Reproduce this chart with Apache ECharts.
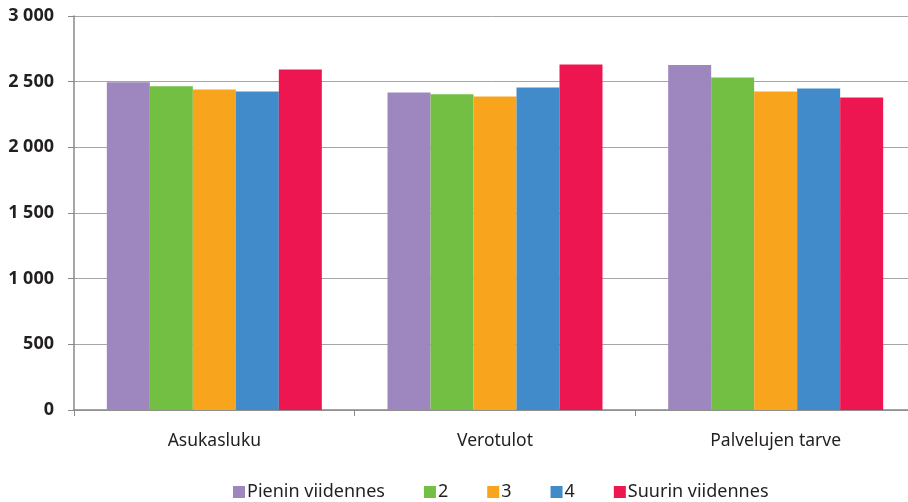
<!DOCTYPE html>
<html><head><meta charset="utf-8">
<script src="https://cdn.jsdelivr.net/npm/echarts@6/dist/echarts.min.js"></script>
<style>html,body{margin:0;padding:0;background:#fff}#c{width:908px;height:502px}</style>
</head><body><div id="c"></div>
<script>
const categories = ['Asukasluku', 'Verotulot', 'Palvelujen tarve'];
const seriesNames = ['Pienin viidennes', '2', '3', '4', 'Suurin viidennes'];
const pienin = [2496, 2418, 2626];
const s2 = [2466, 2405, 2532];
const s3 = [2440, 2387, 2425];
const s4 = [2425, 2456, 2448];
const suurin = [2593, 2631, 2380];
const yTicks = [0, 500, 1000, 1500, 2000, 2500, 3000];
const colors = ['#9d87be', '#72bf44', '#f8a51d', '#428bca', '#ee1651'];
const values = [pienin, s2, s3, s4, suurin];

const chart = echarts.init(document.getElementById('c'));
chart.setOption({
  animation: false,
  color: colors,
  textStyle: { fontFamily: 'Noto Sans' },
  grid: { left: 74, width: 842, top: 16, height: 394, containLabel: false, outerBoundsMode: 'none' },
  legend: {
    bottom: -4, left: 228,
    itemWidth: 12, itemHeight: 12, itemGap: 39,
    icon: 'rect',
    textStyle: { fontSize: 18, color: '#231f20', padding: [0,0,0,-3] },
    data: seriesNames
  },
  xAxis: {
    type: 'category', data: categories,
    axisLine: { lineStyle: { color: '#888', width: 1.5 } },
    axisTick: { show: true, length: 6, lineStyle: { color: '#888' } },
    axisLabel: { fontSize: 17.5, color: '#231f20', margin: 22 }
  },
  yAxis: {
    type: 'value', min: 0, max: 3000, interval: 500,
    axisLine: { show: true, lineStyle: { color: '#888', width: 1.5 } },
    axisTick: { show: true, length: 6, inside: false, lineStyle: { color: '#888' } },
    splitLine: { lineStyle: { color: '#a6a6a6', width: 1 } },
    axisLabel: {
      fontSize: 18, fontWeight: 'bold', color: '#231f20', margin: 20,
      formatter: v => yTicks.includes(v) ? String(v).replace(/\B(?=(\d{3})+(?!\d))/g, ' ') : ''
    }
  },
  series: values.map((d, i) => ({
    name: seriesNames[i], type: 'bar', data: d,
    barGap: '0%', barCategoryGap: '23.4%'
  }))
});
</script></body></html>
